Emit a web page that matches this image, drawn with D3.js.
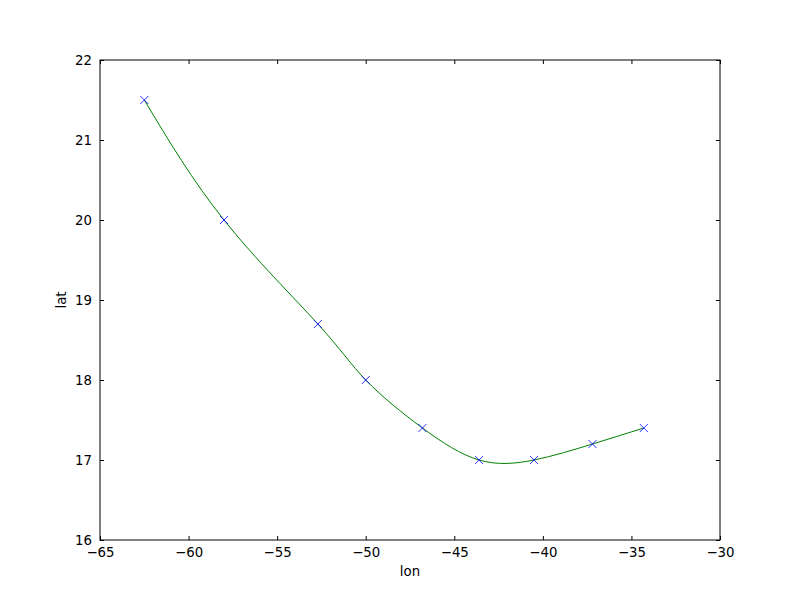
<!DOCTYPE html>
<html>
<head>
<meta charset="utf-8">
<script src="https://cdn.jsdelivr.net/npm/d3@7"></script>
<style>
  body { margin: 0; background: #fff; }
  text { font-family: "DejaVu Sans", sans-serif; }
</style>
</head>
<body>
<script>
// track points
var lon = [-62.5, -58.0, -52.7, -50.0, -46.8, -43.6, -40.5, -37.2, -34.3];
var lat = [21.5, 20.0, 18.7, 18.0, 17.4, 17.0, 17.0, 17.2, 17.4];
var xTicks = [-65, -60, -55, -50, -45, -40, -35, -30];
var yTicks = [16, 17, 18, 19, 20, 21, 22];

var width = 800, height = 600;
var margin = {left: 100, right: 80, top: 60, bottom: 60};
var w = width - margin.left - margin.right,
    h = height - margin.top - margin.bottom;

var svg = d3.select("body").append("svg")
    .attr("width", width)
    .attr("height", height);

var g = svg.append("g")
    .attr("transform", "translate(" + margin.left + "," + margin.top + ")");

var x = d3.scaleLinear().domain([-65, -30]).range([0, w]);
var y = d3.scaleLinear().domain([16, 22]).range([h, 0]);

var points = lon.map(function(d, i){ return [d, lat[i]]; });

// smooth track line
var line = d3.line()
    .x(function(d){ return x(d[0]); })
    .y(function(d){ return y(d[1]); })
    .curve(d3.curveNatural);

g.append("path")
    .datum(points)
    .attr("fill", "none")
    .attr("stroke", "#008000")
    .attr("stroke-width", 1)
    .attr("d", line);

// x markers
var s = 4;
g.selectAll(".mark")
    .data(points)
    .enter()
    .append("path")
    .attr("class", "mark")
    .attr("d", function(d){
      var px = x(d[0]), py = y(d[1]);
      return "M" + (px - s) + "," + (py - s) + "L" + (px + s) + "," + (py + s) +
             "M" + (px - s) + "," + (py + s) + "L" + (px + s) + "," + (py - s);
    })
    .attr("stroke", "#0000ff")
    .attr("stroke-width", 0.8)
    .attr("fill", "none");

// axes, ticks pointing inward on all four sides
var tickFmt = d3.format("d");
var axBottom = g.append("g").attr("transform", "translate(0," + h + ")")
    .call(d3.axisBottom(x).tickValues(xTicks).tickFormat(tickFmt).tickSizeInner(-4).tickSizeOuter(0).tickPadding(8));
var axTop = g.append("g")
    .call(d3.axisTop(x).tickValues(xTicks).tickFormat("").tickSizeInner(-4).tickSizeOuter(0));
var axLeft = g.append("g")
    .call(d3.axisLeft(y).tickValues(yTicks).tickFormat(tickFmt).tickSizeInner(-4).tickSizeOuter(0).tickPadding(8));
var axRight = g.append("g").attr("transform", "translate(" + w + ",0)")
    .call(d3.axisRight(y).tickValues(yTicks).tickFormat("").tickSizeInner(-4).tickSizeOuter(0));

[axBottom, axTop, axLeft, axRight].forEach(function(a){
  a.select(".domain").remove();
  a.selectAll("line").attr("stroke", "#000");
  a.selectAll("text").attr("font-size", 13.3).attr("font-family", "DejaVu Sans").attr("fill", "#000");
});

// frame
g.append("rect")
    .attr("width", w)
    .attr("height", h)
    .attr("fill", "none")
    .attr("stroke", "#000")
    .attr("stroke-width", 1);

// axis labels
svg.append("text")
    .attr("x", margin.left + w / 2)
    .attr("y", 576)
    .attr("text-anchor", "middle")
    .attr("font-size", 13.3)
    .text("lon");

svg.append("text")
    .attr("transform", "translate(66," + (margin.top + h / 2) + ") rotate(-90)")
    .attr("text-anchor", "middle")
    .attr("font-size", 13.3)
    .text("lat");
</script>
</body>
</html>
